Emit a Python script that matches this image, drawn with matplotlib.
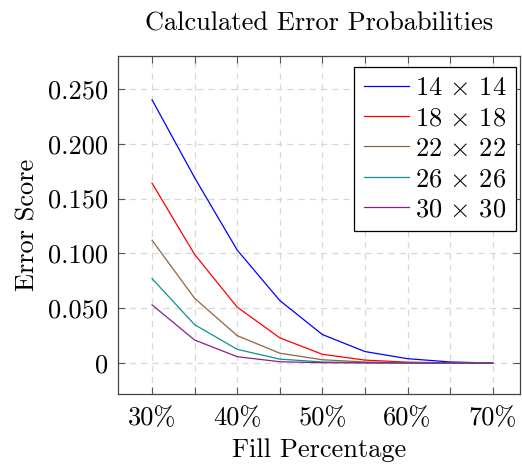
import numpy as np
import matplotlib
matplotlib.use("Agg")
import matplotlib.pyplot as plt
from matplotlib.ticker import MultipleLocator

plt.rcParams['font.family'] = 'serif'
plt.rcParams['font.serif'] = ['cmr10']
plt.rcParams['mathtext.fontset'] = 'cm'
plt.rcParams['axes.formatter.use_mathtext'] = True

# data
fill = [30, 35, 40, 45, 50, 55, 60, 65, 70]
err_14 = [0.240, 0.169, 0.103, 0.057, 0.026, 0.0105, 0.004, 0.001, 0.0]
err_18 = [0.164, 0.099, 0.051, 0.023, 0.008, 0.0027, 0.0008, 0.0002, 0.0]
err_22 = [0.112, 0.059, 0.025, 0.009, 0.003, 0.001, 0.0003, 0.0001, 0.0]
err_26 = [0.077, 0.035, 0.0125, 0.0036, 0.001, 0.0003, 0.0001, 0.0, 0.0]
err_30 = [0.053, 0.021, 0.0058, 0.0012, 0.0003, 0.0001, 0.0, 0.0, 0.0]
labels = [r'$14 \,\times\, 14$', r'$18 \,\times\, 18$', r'$22 \,\times\, 22$',
          r'$26 \,\times\, 26$', r'$30 \,\times\, 30$']
colors = ['#0000ff', '#ff0000', '#8f6440', '#109090', '#882288']

xticks = [30, 40, 50, 60, 70]
xticklabels = ['30%', '40%', '50%', '60%', '70%']
yticks = [0, 0.05, 0.10, 0.15, 0.20, 0.25]
yticklabels = ['0', '0.050', '0.100', '0.150', '0.200', '0.250']

fs = 19

fig = plt.figure(figsize=(5.22, 4.66), dpi=100)
ax = fig.add_axes([0.226, 0.155, 0.770, 0.725])

for ys, lab, c in zip([err_14, err_18, err_22, err_26, err_30], labels, colors):
    ax.plot(fill, ys, color=c, lw=0.9, label=lab)

ax.set_xlim(26, 73.2)
ax.set_ylim(-0.028, 0.280)
ax.set_xticks(xticks)
ax.set_xticklabels(xticklabels)
ax.xaxis.set_minor_locator(MultipleLocator(5))
ax.set_yticks(yticks)
ax.set_yticklabels(yticklabels)

ax.grid(True, which='both', color='#d8d8d8', ls=(0, (5, 4)), lw=0.9)
ax.set_axisbelow(True)
ax.tick_params(which='both', direction='in', top=True, right=True,
               length=5, width=0.8, color='#555555', labelsize=fs)
ax.tick_params(axis='x', which='both', pad=9)
ax.tick_params(axis='y', which='both', pad=7)
for s in ax.spines.values():
    s.set_color('#444444')
    s.set_linewidth(0.9)

ax.set_title('Calculated Error Probabilities', fontsize=fs, pad=18)
ax.set_xlabel('Fill Percentage', fontsize=fs, labelpad=6)
ax.set_ylabel('Error Score', fontsize=fs, labelpad=6)

leg = ax.legend(loc='upper right', bbox_to_anchor=(0.990, 0.967),
                borderaxespad=0, fontsize=fs, frameon=True, fancybox=False,
                edgecolor='black', framealpha=1, handlelength=1.7,
                labelspacing=0.25, handletextpad=0.25, borderpad=0.35)
leg.get_frame().set_linewidth(0.9)

fig.savefig('out.png', dpi=100)
